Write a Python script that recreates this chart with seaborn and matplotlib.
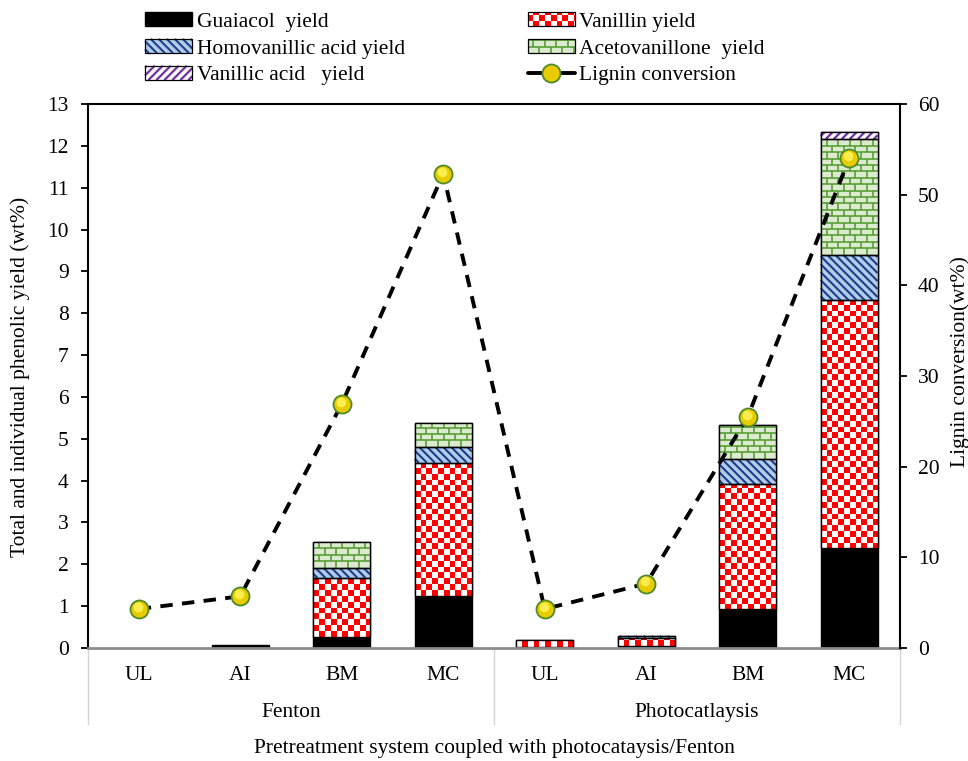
import numpy as np
import matplotlib
matplotlib.use("Agg")
import matplotlib.pyplot as plt
import matplotlib.transforms as mtransforms
from matplotlib.patches import Rectangle, Patch
from matplotlib.collections import PatchCollection, LineCollection
from matplotlib.lines import Line2D
from matplotlib.legend_handler import HandlerBase
import seaborn as sns

# ---------------- data ----------------
systems = ["Fenton", "Photocatlaysis"]
pretreatments = ["UL", "AI", "BM", "MC"]

guaiacol = [0.00, 0.08, 0.27, 1.25, 0.02, 0.05, 0.92, 2.38]
vanillin = [0.00, 0.00, 1.41, 3.18, 0.17, 0.19, 2.99, 5.93]
homovanillic = [0.00, 0.00, 0.24, 0.38, 0.00, 0.05, 0.61, 1.09]
acetovanillone = [0.00, 0.00, 0.61, 0.57, 0.00, 0.00, 0.82, 2.76]
vanillic = [0.00, 0.00, 0.00, 0.00, 0.00, 0.00, 0.00, 0.16]
lignin_conversion = [4.3, 5.7, 26.9, 52.3, 4.3, 7.1, 25.5, 54.0]

series_labels = ["Guaiacol  yield", "Vanillin yield", "Homovanillic acid yield",
                 "Acetovanillone  yield", "Vanillic acid   yield"]
line_label = "Lignin conversion"

# ---------------- style ----------------
sns.set_theme(style="white", rc={
    "text.color": "black", "axes.labelcolor": "black",
    "xtick.color": "black", "ytick.color": "black",
})
plt.rcParams["font.family"] = ["Liberation Serif", "DejaVu Serif"]
FS = 15.5

RED = "#ff0000"
BLUE_FACE, BLUE_LINE = "#b3cdea", "#1b3f8b"
GREEN_FACE, GREEN_LINE = "#dcebd0", "#4e9a2b"
PURPLE = "#7030a0"
BALL_FACE, BALL_EDGE, BALL_SHINE = "#e9cc00", "#4f8a2a", "#fff45c"


def pattern_artists(kind, x0, y0, w, h, sx, sy, transform, zorder=1.5, clip=False):
    """Fill pattern for a rectangle; sx, sy give target units per pixel."""
    W, H = w / sx, h / sy
    arts = []

    def to_units(segs):
        return [[(x0 + px * sx, y0 + py * sy) for (px, py) in seg] for seg in segs]

    def face(color):
        return Rectangle((x0, y0), w, h, facecolor=color, edgecolor="none",
                         transform=transform, zorder=zorder)

    if kind == "checker":
        c = 5.8
        arts.append(face(RED))
        cells = []
        for i in range(int(np.ceil(W / c))):
            for j in range(int(np.ceil(H / c))):
                if (i + j) % 2 == 0:
                    cx, cy = i * c, j * c
                    cells.append(Rectangle((x0 + cx * sx, y0 + cy * sy),
                                           min(c, W - cx) * sx, min(c, H - cy) * sy))
        if cells:
            arts.append(PatchCollection(cells, facecolor="white", edgecolor="none",
                                        transform=transform, zorder=zorder))
        return arts

    segs = []
    if kind == "brick":
        row, brick = 6.4, 11.5
        arts.append(face(GREEN_FACE))
        y = row
        while y < H - 0.5:
            segs.append([(0, y), (W, y)])
            y += row
        y, j = 0.0, 0
        while y < H:
            y1 = min(y + row, H)
            x = brick if j % 2 == 0 else brick / 2
            while x < W - 0.5:
                segs.append([(x, y), (x, y1)])
                x += brick
            y += row
            j += 1
        color, lw = GREEN_LINE, 1.1
    elif kind == "back":
        sp = 8.0
        arts.append(face(BLUE_FACE))
        k = sp / 2
        while k < W + H:
            xa, xb = max(0, k - H), min(W, k)
            if xb > xa:
                segs.append([(xa, k - xa), (xb, k - xb)])
            k += sp
        color, lw = BLUE_LINE, 1.5
    else:  # forward diagonal stripes
        sp = 8.0
        arts.append(face("white"))
        k = -W + sp / 2
        while k < H:
            xa, xb = max(0, -k), min(W, H - k)
            if xb > xa:
                segs.append([(xa, xa + k), (xb, xb + k)])
            k += sp
        color, lw = PURPLE, 1.6
    lc = LineCollection(to_units(segs), colors=color, linewidths=lw,
                        transform=transform, zorder=zorder, capstyle="butt")
    if clip:
        lc.set_clip_path(Rectangle((x0, y0), w, h, transform=transform))
    arts.append(lc)
    return arts


class PatternHandler(HandlerBase):
    def __init__(self, kind):
        super().__init__()
        self.kind = kind

    def create_artists(self, legend, orig_handle, xdescent, ydescent,
                       width, height, fontsize, trans):
        s = 72.0 / legend.figure.dpi
        arts = pattern_artists(self.kind, -xdescent, -ydescent, width, height,
                               s, s, trans)
        arts.append(Rectangle((-xdescent, -ydescent), width, height, fill=False,
                              edgecolor="black", linewidth=0.9, transform=trans))
        return arts


# ---------------- figure ----------------
fig = plt.figure(figsize=(9.68, 7.61), dpi=100)
ax = fig.add_axes([0.0909, 0.1485, 0.8388, 0.7148])

keys = [f"{s} {p}" for s in systems for p in pretreatments]
series = [guaiacol, vanillin, homovanillic, acetovanillone, vanillic]
faces = ["black", RED, BLUE_FACE, GREEN_FACE, "white"]
kinds = ["solid", "checker", "back", "brick", "fwd"]

bottom = np.zeros(len(keys))
containers = []
for vals, fc in zip(series, faces):
    sns.barplot(x=keys, y=vals, order=keys, bottom=bottom.copy(), color=fc,
                saturation=1, width=0.56, edgecolor="black", linewidth=1.0,
                errorbar=None, ax=ax)
    containers.append(ax.containers[-1])
    bottom += np.asarray(vals)

ax.set_xlim(-0.5, 7.5)
ax.set_ylim(0, 13)

# pixel scale of the data coordinates
p0 = ax.transData.transform((0, 0))
p1 = ax.transData.transform((1, 1))
sx, sy = 1.0 / (p1[0] - p0[0]), 1.0 / (p1[1] - p0[1])

for kind, cont in zip(kinds, containers):
    for p in cont.patches:
        h = p.get_height()
        if h <= 1e-9:
            p.set_visible(False)
            continue
        if kind == "solid":
            continue
        x0, y0, w = p.get_x(), p.get_y(), p.get_width()
        for a in pattern_artists(kind, x0, y0, w, h, sx, sy, ax.transData,
                                 zorder=1.5, clip=True):
            ax.add_artist(a)
        ax.add_patch(Rectangle((x0, y0), w, h, fill=False, edgecolor="black",
                               linewidth=1.0, zorder=1.8))

# axis styling (left)
ax.set_xticks(range(len(keys)))
ax.set_xticklabels(pretreatments * len(systems))
ax.set_yticks(range(0, 14))
ax.tick_params(axis="x", length=0, labelsize=FS, pad=13)
ax.tick_params(axis="y", direction="out", length=5, width=1.3, labelsize=FS, pad=9,
               left=True)
ax.set_xlabel("")
ax.set_ylabel("")
ax.spines["bottom"].set_color("#8c8c8c")
ax.spines["bottom"].set_linewidth(2.0)
for s in ("left", "top"):
    ax.spines[s].set_color("black")
    ax.spines[s].set_linewidth(1.5)
ax.spines["right"].set_visible(False)

# lignin conversion on the secondary axis
ax2 = ax.twinx()
sns.lineplot(x=np.arange(len(keys)), y=lignin_conversion, ax=ax2, color="black",
             linewidth=2.8, linestyle=(0, (3.2, 2.4)), dash_capstyle="butt",
             marker="o", markersize=13, markerfacecolor=BALL_FACE,
             markeredgecolor=BALL_EDGE, markeredgewidth=1.3, legend=False)
# glossy highlight on each ball
shine = mtransforms.offset_copy(ax2.transData, fig=fig, x=-0.6, y=1.6, units="points")
ax2.plot(np.arange(len(keys)), lignin_conversion, linestyle="none", marker="o",
         markersize=7, markerfacecolor=BALL_SHINE, markeredgecolor="none",
         alpha=0.85, transform=shine)
ax2.set_ylim(0, 60)
ax2.set_xlim(-0.5, 7.5)
ax2.set_yticks(range(0, 61, 10))
ax2.tick_params(axis="y", direction="out", length=5, width=1.3, labelsize=FS, pad=8,
                right=True)
ax2.set_ylabel("")
for s in ("left", "top", "bottom"):
    ax2.spines[s].set_visible(False)
ax2.spines["right"].set_color("black")
ax2.spines["right"].set_linewidth(1.5)

# grouped category axis below the plot
btrans = mtransforms.blended_transform_factory(ax.transData, ax.transAxes)
for xb in (-0.5, 3.5, 7.5):
    ax.add_line(Line2D([xb, xb], [0, -0.14], transform=btrans, color="#d4d4d4",
                       linewidth=1.0, clip_on=False))
for i, s in enumerate(systems):
    ax.text(1.5 + 4 * i, -0.118, s, transform=btrans, ha="center", va="center",
            fontsize=FS)

fig.text(494 / 968, 1 - 748 / 761, "Pretreatment system coupled with photocataysis/Fenton",
         ha="center", va="center", fontsize=FS)
fig.text(20 / 968, 1 - 377 / 761, "Total and individual phenolic yield (wt%)",
         rotation=90, ha="center", va="center", fontsize=FS)
fig.text(960 / 968, 1 - 362 / 761, "Lignin conversion(wt%)",
         rotation=90, ha="center", va="center", fontsize=FS)

# legend
h_g = Patch(facecolor="black", edgecolor="black")
h_v, h_h, h_a, h_va = Patch(), Patch(), Patch(), Patch()
h_l = Line2D([], [], color="black", linewidth=2.8, marker="o", markersize=13,
             markerfacecolor=BALL_FACE, markeredgecolor=BALL_EDGE, markeredgewidth=1.3)
handles = [h_g, h_h, h_va, h_v, h_a, h_l]
labels = [series_labels[0], series_labels[2], series_labels[4],
          series_labels[1], series_labels[3], line_label]
hmap = {h_v: PatternHandler("checker"), h_h: PatternHandler("back"),
        h_a: PatternHandler("brick"), h_va: PatternHandler("fwd")}
fig.legend(handles, labels, handler_map=hmap, ncol=2, loc="upper left",
           bbox_to_anchor=(145 / 968, 1 - 12 / 761), frameon=False, fontsize=15.5,
           borderpad=0, borderaxespad=0, handlelength=2.2, handleheight=0.65,
           handletextpad=0.2, columnspacing=5.7, labelspacing=0.33, numpoints=1)

fig.savefig("out.png", dpi=100)
